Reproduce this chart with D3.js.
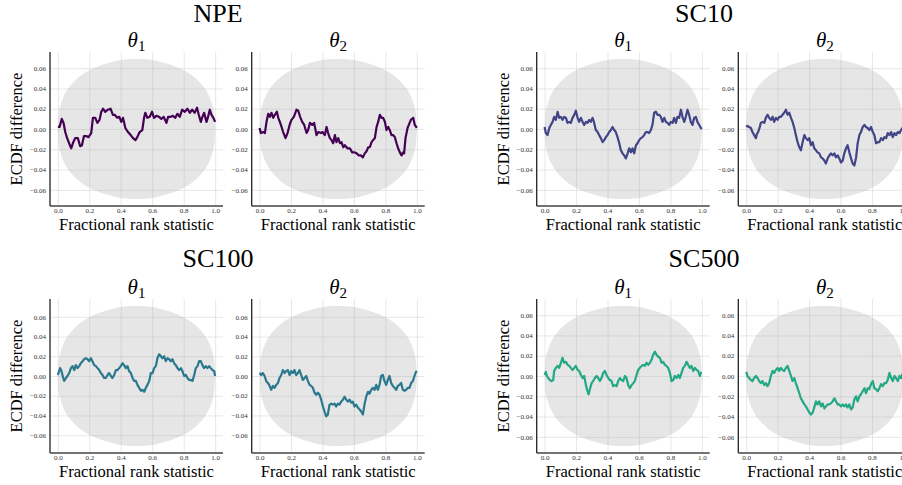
<!DOCTYPE html>
<html>
<head>
<meta charset="utf-8">
<script src="https://cdn.jsdelivr.net/npm/d3@7"></script>
<style>
  body { margin: 0; background: #fff; }
  text { font-family: "Liberation Serif", "Times New Roman", serif; }
</style>
</head>
<body>
<svg id="chart" width="902" height="485"></svg>
<script>
// ---- data ----
const groups = ["NPE", "SC10", "SC100", "SC500"];
const params = ["1", "2"];   // θ subscripts
const lineColors = ["#440154", "#414487", "#2a788e", "#22a884"];
const bandMax = [0.069, 0.069, 0.071, 0.069];

const bandX = [0, 0.005, 0.01, 0.02, 0.04, 0.06, 0.08, 0.1, 0.15, 0.2, 0.25, 0.3, 0.35, 0.4, 0.45, 0.5,
               0.55, 0.6, 0.65, 0.7, 0.75, 0.8, 0.85, 0.9, 0.92, 0.94, 0.96, 0.98, 0.99, 0.995, 1];
const bandShape = [0, 0.2, 0.27, 0.36, 0.48, 0.56, 0.62, 0.67, 0.77, 0.84, 0.89, 0.93, 0.96, 0.985, 0.997, 1,
                   0.997, 0.985, 0.96, 0.93, 0.89, 0.84, 0.77, 0.67, 0.62, 0.56, 0.48, 0.36, 0.27, 0.2, 0];

const xTicks = [0, 0.2, 0.4, 0.6, 0.8, 1.0];
const yTicks = [-0.06, -0.04, -0.02, 0, 0.02, 0.04, 0.06];

const npeTheta1 = [[0,0.002],[0.011,0.002],[0.025,0.010],[0.036,0.006],[0.047,-0.003],[0.059,-0.009],[0.074,-0.015],
  [0.085,-0.019],[0.098,-0.013],[0.110,-0.009],[0.127,-0.009],[0.142,-0.017],[0.153,-0.016],[0.166,-0.007],[0.180,-0.007],
  [0.195,-0.008],[0.212,-0.004],[0.223,0.011],[0.238,0.011],[0.251,0.006],[0.265,0.009],[0.276,0.017],[0.287,0.020],
  [0.301,0.017],[0.318,0.019],[0.335,0.020],[0.350,0.014],[0.361,0.014],[0.378,0.011],[0.391,0.012],[0.403,0.007],
  [0.414,0.011],[0.429,0.001],[0.446,-0.003],[0.463,-0.006],[0.478,-0.009],[0.493,-0.011],[0.505,-0.008],[0.520,-0.003],
  [0.537,-0.001],[0.548,0.011],[0.556,0.016],[0.569,0.011],[0.584,0.012],[0.599,0.017],[0.611,0.011],[0.626,0.013],
  [0.643,0.012],[0.658,0.010],[0.673,0.012],[0.690,0.006],[0.701,0.012],[0.718,0.012],[0.732,0.013],[0.747,0.011],
  [0.760,0.015],[0.775,0.012],[0.790,0.019],[0.807,0.017],[0.824,0.020],[0.839,0.016],[0.854,0.019],[0.870,0.016],
  [0.885,0.021],[0.896,0.014],[0.909,0.007],[0.919,0.012],[0.930,0.016],[0.945,0.007],[0.955,0.012],[0.966,0.019],
  [0.977,0.014],[0.989,0.011],[1,0.007]];

const npeTheta2 = [[0,0.001],[0.008,-0.004],[0.023,-0.003],[0.034,-0.004],[0.044,0.007],[0.055,0.015],[0.066,0.012],
  [0.076,0.016],[0.087,0.011],[0.097,0.014],[0.110,0.017],[0.119,0.011],[0.129,0.007],[0.140,0.002],[0.150,-0.003],
  [0.165,-0.009],[0.178,-0.004],[0.191,0.004],[0.203,0.009],[0.218,0.012],[0.235,0.019],[0.246,0.018],[0.258,0.012],
  [0.271,0.007],[0.284,0.004],[0.299,-0.004],[0.309,-0.001],[0.320,0.006],[0.335,0.004],[0.347,0.006],[0.362,-0.006],
  [0.373,-0.003],[0.390,-0.004],[0.400,-0.003],[0.415,-0.006],[0.426,0.002],[0.436,-0.004],[0.447,-0.009],[0.458,-0.011],
  [0.468,-0.014],[0.479,-0.006],[0.489,-0.013],[0.500,-0.009],[0.511,-0.014],[0.521,-0.013],[0.532,-0.018],[0.542,-0.016],
  [0.559,-0.019],[0.574,-0.019],[0.589,-0.023],[0.602,-0.023],[0.617,-0.024],[0.631,-0.026],[0.644,-0.026],[0.657,-0.028],
  [0.669,-0.024],[0.680,-0.022],[0.691,-0.018],[0.701,-0.018],[0.712,-0.013],[0.722,-0.011],[0.733,-0.009],[0.744,0.002],
  [0.754,0.007],[0.765,0.014],[0.775,0.011],[0.786,0.011],[0.797,0.007],[0.807,-0.001],[0.818,0.002],[0.828,-0.001],
  [0.839,-0.006],[0.849,-0.006],[0.860,-0.008],[0.871,-0.014],[0.881,-0.019],[0.892,-0.023],[0.903,-0.026],[0.913,-0.023],
  [0.919,-0.024],[0.928,-0.009],[0.941,0.001],[0.949,0.004],[0.962,0.009],[0.977,0.011],[0.987,0.004],[1,0.001]];

const sc10Theta1 = [[0,0.002],[0.008,-0.004],[0.019,-0.006],[0.030,0.001],[0.040,0.004],[0.051,0.007],[0.061,0.012],
  [0.072,0.009],[0.083,0.017],[0.093,0.011],[0.104,0.012],[0.114,0.009],[0.125,0.012],[0.136,0.011],[0.146,0.006],
  [0.157,0.007],[0.167,0.006],[0.178,0.011],[0.189,0.014],[0.199,0.018],[0.210,0.011],[0.220,0.007],[0.231,0.011],
  [0.242,0.007],[0.252,0.004],[0.263,0.007],[0.273,0.006],[0.284,0.009],[0.294,0.007],[0.305,0.011],[0.314,0.007],
  [0.326,-0.001],[0.337,-0.003],[0.347,-0.006],[0.358,-0.009],[0.369,-0.013],[0.379,-0.011],[0.390,-0.008],[0.400,-0.006],
  [0.411,-0.003],[0.422,-0.001],[0.432,0.002],[0.443,-0.001],[0.453,-0.003],[0.464,-0.008],[0.475,-0.014],[0.485,-0.021],
  [0.496,-0.024],[0.506,-0.026],[0.517,-0.029],[0.528,-0.024],[0.538,-0.019],[0.549,-0.023],[0.559,-0.019],[0.570,-0.024],
  [0.581,-0.016],[0.591,-0.014],[0.602,-0.011],[0.612,-0.009],[0.623,-0.008],[0.633,-0.006],[0.644,-0.003],[0.653,-0.003],
  [0.665,-0.004],[0.676,-0.001],[0.686,0.004],[0.697,0.016],[0.708,0.017],[0.718,0.014],[0.729,0.014],[0.739,0.012],
  [0.750,0.007],[0.761,0.011],[0.771,0.007],[0.782,0.006],[0.792,0.004],[0.803,0.007],[0.814,0.006],[0.824,0.011],
  [0.835,0.006],[0.845,0.012],[0.856,0.011],[0.867,0.019],[0.877,0.012],[0.888,0.007],[0.898,0.012],[0.909,0.019],
  [0.919,0.014],[0.930,0.007],[0.941,0.004],[0.951,0.011],[0.962,0.012],[0.972,0.007],[0.983,0.004],[0.994,0.001],[1,0]];

const sc10Theta2 = [[0,0.002],[0.008,0.003],[0.019,0.002],[0.030,0.001],[0.040,-0.003],[0.051,-0.006],[0.062,-0.009],
  [0.068,-0.005],[0.076,-0.003],[0.085,0.001],[0.093,0.006],[0.104,0.007],[0.115,0.006],[0.125,0.011],[0.136,0.014],
  [0.146,0.011],[0.157,0.009],[0.168,0.012],[0.178,0.007],[0.189,0.011],[0.200,0.009],[0.210,0.012],[0.221,0.012],
  [0.231,0.014],[0.242,0.016],[0.253,0.019],[0.263,0.014],[0.274,0.016],[0.285,0.011],[0.295,0.007],[0.306,0.001],
  [0.316,-0.006],[0.327,-0.013],[0.338,-0.018],[0.348,-0.021],[0.359,-0.013],[0.370,-0.006],[0.380,-0.009],[0.391,-0.011],
  [0.401,-0.009],[0.412,-0.016],[0.423,-0.013],[0.433,-0.019],[0.444,-0.021],[0.454,-0.023],[0.465,-0.024],[0.476,-0.028],
  [0.486,-0.029],[0.497,-0.031],[0.507,-0.034],[0.518,-0.029],[0.529,-0.026],[0.539,-0.024],[0.550,-0.026],[0.561,-0.024],
  [0.571,-0.028],[0.582,-0.026],[0.592,-0.029],[0.603,-0.033],[0.614,-0.031],[0.624,-0.024],[0.635,-0.019],[0.645,-0.016],
  [0.656,-0.023],[0.667,-0.029],[0.677,-0.034],[0.688,-0.036],[0.699,-0.028],[0.709,-0.014],[0.720,-0.006],[0.730,-0.003],
  [0.741,0.002],[0.752,0.004],[0.762,0.002],[0.773,0.001],[0.783,-0.001],[0.794,0.002],[0.805,-0.003],[0.815,-0.006],
  [0.826,-0.014],[0.837,-0.013],[0.847,-0.013],[0.858,-0.009],[0.869,-0.011],[0.879,-0.008],[0.890,-0.009],[0.900,-0.004],
  [0.911,-0.006],[0.922,-0.003],[0.932,-0.008],[0.943,-0.004],[0.953,-0.006],[0.964,-0.003],[0.975,-0.004],[0.985,-0.001],
  [0.994,0.001],[1,0.001]];

const sc100Theta1 = [[0,0.001],[0.008,0.005],[0.015,0.008],[0.023,0.005],[0.034,-0.002],[0.040,-0.005],[0.051,-0.002],
  [0.061,0.000],[0.072,0.003],[0.083,0.008],[0.093,0.010],[0.104,0.006],[0.114,0.011],[0.125,0.008],[0.136,0.010],
  [0.146,0.013],[0.157,0.015],[0.167,0.017],[0.178,0.018],[0.189,0.017],[0.199,0.015],[0.210,0.018],[0.220,0.015],
  [0.231,0.011],[0.242,0.010],[0.252,0.008],[0.263,0.006],[0.273,0.003],[0.284,0.001],[0.294,-0.002],[0.305,-0.002],
  [0.316,0.001],[0.326,0.003],[0.337,0.000],[0.347,-0.002],[0.358,0.001],[0.369,0.006],[0.379,0.006],[0.390,0.008],
  [0.400,0.010],[0.411,0.013],[0.422,0.011],[0.432,0.008],[0.443,0.010],[0.453,0.005],[0.464,0.003],[0.475,-0.002],
  [0.485,-0.005],[0.496,-0.005],[0.506,-0.009],[0.517,-0.012],[0.528,-0.015],[0.538,-0.014],[0.549,-0.016],[0.559,-0.012],
  [0.570,-0.009],[0.581,-0.005],[0.591,0.003],[0.602,0.003],[0.612,0.008],[0.623,0.010],[0.633,0.018],[0.644,0.022],
  [0.655,0.020],[0.665,0.018],[0.676,0.020],[0.686,0.015],[0.697,0.018],[0.708,0.017],[0.718,0.015],[0.729,0.017],
  [0.739,0.013],[0.750,0.011],[0.761,0.008],[0.771,0.006],[0.782,0.008],[0.792,0.005],[0.803,0.000],[0.814,0.001],
  [0.824,-0.002],[0.835,-0.004],[0.845,-0.004],[0.856,-0.005],[0.867,0.001],[0.877,0.008],[0.888,0.010],[0.898,0.015],
  [0.909,0.015],[0.919,0.011],[0.930,0.008],[0.941,0.010],[0.951,0.008],[0.962,0.010],[0.972,0.008],[0.983,0.006],
  [0.994,0.005],[1,0]];

const sc100Theta2 = [[0,0.003],[0.011,0.001],[0.021,0.003],[0.032,0.000],[0.042,-0.005],[0.053,-0.007],[0.064,-0.010],
  [0.074,-0.014],[0.085,-0.010],[0.095,-0.012],[0.106,-0.009],[0.117,-0.007],[0.127,-0.002],[0.138,0.001],[0.148,0.006],
  [0.159,0.003],[0.169,0.005],[0.180,0.006],[0.191,0.001],[0.201,0.005],[0.212,0.003],[0.222,0.006],[0.233,0.001],
  [0.244,0.003],[0.254,0.006],[0.265,0.001],[0.275,-0.004],[0.286,-0.002],[0.297,0.000],[0.307,-0.005],[0.318,-0.009],
  [0.328,-0.010],[0.339,-0.012],[0.350,-0.017],[0.360,-0.019],[0.371,-0.017],[0.381,-0.019],[0.392,-0.024],[0.403,-0.031],
  [0.413,-0.036],[0.424,-0.041],[0.434,-0.039],[0.445,-0.029],[0.456,-0.028],[0.466,-0.029],[0.477,-0.028],[0.487,-0.031],
  [0.498,-0.028],[0.508,-0.029],[0.519,-0.026],[0.530,-0.024],[0.540,-0.021],[0.551,-0.024],[0.561,-0.026],[0.572,-0.024],
  [0.583,-0.027],[0.593,-0.026],[0.604,-0.031],[0.614,-0.029],[0.625,-0.032],[0.636,-0.034],[0.646,-0.036],[0.657,-0.039],
  [0.667,-0.029],[0.678,-0.021],[0.689,-0.016],[0.699,-0.018],[0.710,-0.014],[0.720,-0.012],[0.731,-0.014],[0.742,-0.009],
  [0.752,-0.014],[0.763,-0.009],[0.773,0.000],[0.784,0.001],[0.794,-0.005],[0.805,-0.009],[0.816,-0.004],[0.826,0.000],
  [0.837,-0.007],[0.847,-0.010],[0.858,-0.012],[0.869,-0.014],[0.879,-0.010],[0.890,-0.009],[0.900,-0.007],[0.911,-0.014],
  [0.922,-0.015],[0.932,-0.014],[0.943,-0.012],[0.953,-0.012],[0.964,-0.007],[0.975,-0.005],[0.985,0.000],[0.994,0.004],
  [1,0.005]];

const sc500Theta1 = [[0,0.001],[0.008,0.004],[0.015,0.000],[0.023,-0.002],[0.034,-0.004],[0.044,-0.005],[0.055,-0.004],
  [0.061,0.005],[0.072,0.008],[0.083,0.010],[0.093,0.008],[0.104,0.013],[0.114,0.018],[0.125,0.013],[0.136,0.014],
  [0.146,0.011],[0.157,0.010],[0.167,0.008],[0.178,0.006],[0.189,0.008],[0.199,0.010],[0.210,0.006],[0.220,0.005],
  [0.231,0.001],[0.242,-0.002],[0.252,0.000],[0.263,-0.009],[0.273,-0.015],[0.280,-0.018],[0.290,-0.012],[0.299,-0.007],
  [0.309,-0.005],[0.320,-0.002],[0.331,0.000],[0.341,-0.002],[0.352,-0.005],[0.362,-0.002],[0.373,0.003],[0.383,0.005],
  [0.394,0.001],[0.405,-0.002],[0.415,-0.004],[0.426,-0.005],[0.436,-0.010],[0.447,-0.009],[0.458,-0.010],[0.468,-0.005],
  [0.479,-0.002],[0.489,-0.004],[0.500,-0.005],[0.511,0.000],[0.521,-0.002],[0.532,-0.009],[0.542,-0.012],[0.553,-0.009],
  [0.564,-0.007],[0.574,-0.005],[0.585,0.001],[0.595,0.006],[0.606,0.008],[0.617,0.010],[0.627,0.011],[0.638,0.010],
  [0.648,0.013],[0.659,0.011],[0.670,0.013],[0.680,0.016],[0.691,0.021],[0.701,0.024],[0.712,0.021],[0.722,0.019],
  [0.733,0.018],[0.744,0.013],[0.754,0.014],[0.765,0.011],[0.775,0.010],[0.786,0.008],[0.797,0.003],[0.807,-0.005],
  [0.818,-0.004],[0.828,0.000],[0.839,-0.002],[0.850,0.001],[0.860,-0.002],[0.871,0.003],[0.881,0.008],[0.892,0.010],
  [0.903,0.014],[0.913,0.011],[0.924,0.008],[0.934,0.010],[0.945,0.005],[0.956,0.008],[0.966,0.006],[0.977,0.005],
  [0.987,0.000],[0.994,0.003],[1,0.003]];

const sc500Theta2 = [[0,0.004],[0.008,0.000],[0.019,-0.002],[0.030,-0.004],[0.040,-0.005],[0.051,-0.002],[0.062,0.000],
  [0.072,-0.002],[0.083,-0.005],[0.093,-0.007],[0.104,-0.005],[0.115,-0.009],[0.125,-0.007],[0.136,-0.010],[0.146,-0.007],
  [0.157,0.000],[0.168,0.005],[0.178,0.003],[0.189,0.006],[0.200,0.008],[0.210,0.005],[0.221,0.008],[0.231,0.006],
  [0.242,0.005],[0.253,0.008],[0.263,0.010],[0.274,0.005],[0.285,0.000],[0.295,-0.005],[0.306,-0.002],[0.316,-0.007],
  [0.327,-0.012],[0.338,-0.017],[0.348,-0.022],[0.359,-0.025],[0.370,-0.028],[0.380,-0.030],[0.391,-0.033],[0.401,-0.036],
  [0.412,-0.038],[0.423,-0.036],[0.433,-0.031],[0.444,-0.025],[0.454,-0.028],[0.465,-0.025],[0.476,-0.030],[0.486,-0.027],
  [0.497,-0.032],[0.507,-0.030],[0.518,-0.028],[0.529,-0.028],[0.539,-0.027],[0.550,-0.025],[0.561,-0.022],[0.571,-0.025],
  [0.582,-0.028],[0.592,-0.028],[0.603,-0.030],[0.614,-0.028],[0.624,-0.030],[0.635,-0.028],[0.645,-0.031],[0.656,-0.028],
  [0.667,-0.033],[0.677,-0.031],[0.688,-0.023],[0.699,-0.020],[0.709,-0.025],[0.720,-0.020],[0.730,-0.018],[0.741,-0.015],
  [0.752,-0.012],[0.762,-0.017],[0.773,-0.012],[0.783,-0.013],[0.794,-0.008],[0.805,-0.005],[0.815,-0.012],[0.826,-0.013],
  [0.837,-0.015],[0.847,-0.012],[0.858,-0.008],[0.868,-0.010],[0.879,-0.007],[0.890,-0.007],[0.900,-0.004],[0.911,0.003],
  [0.922,-0.002],[0.932,-0.005],[0.943,0.000],[0.953,-0.002],[0.964,-0.005],[0.975,0.000],[0.985,-0.002],[0.994,0.002],
  [1,0.003]];

const seriesByGroup = [
  [npeTheta1, npeTheta2],
  [sc10Theta1, sc10Theta2],
  [sc100Theta1, sc100Theta2],
  [sc500Theta1, sc500Theta2]
];

// ---- layout ----
let svg = d3.select("#chart");
svg.append("rect").attr("width", 902).attr("height", 485).attr("fill", "#fff");

const panelW = 173;
const panelH = 154;
const colLefts = [[50, 251.7], [536.7, 738.3]];
const rowTops = [52, 299];
const titleX = [218, 704];
const titleY = [21.5, 267];

let formatY = d3.format(".2f");
let formatX = d3.format(".1f");

groups.forEach((gName, gi) => {
    let col = gi % 2;
    let row = Math.floor(gi / 2);
    let top = rowTops[row];

    svg.append("text")
        .attr("x", titleX[col])
        .attr("y", titleY[row])
        .attr("text-anchor", "middle")
        .style("font-size", "26px")
        .style("fill", "#000")
        .text(gName);

    params.forEach((pName, pi) => {
        let left = colLefts[col][pi];
        let data = seriesByGroup[gi][pi];
        let lim = bandMax[gi] * 1.1;

        let xScale = d3.scaleLinear()
                        .domain([-0.05, 1.05])
                        .range([left, left + panelW]);
        let yScale = d3.scaleLinear()
                        .domain([-lim, lim])
                        .range([top + panelH, top]);

        let g = svg.append("g");
        let clipId = `clip_${gi}_${pi}`;
        g.append("clipPath")
            .attr("id", clipId)
            .append("rect")
            .attr("x", left).attr("y", top)
            .attr("width", panelW).attr("height", panelH);

        // confidence band
        let bandPts = bandX.map((x, i) => ({x: x, h: bandShape[i] * bandMax[gi]}));
        let area = d3.area()
                    .x(d => xScale(d.x))
                    .y0(d => yScale(-d.h))
                    .y1(d => yScale(d.h))
                    .curve(d3.curveMonotoneX);
        g.append("path")
            .attr("clip-path", `url(#${clipId})`)
            .attr("d", area(bandPts))
            .attr("fill", "#808080")
            .attr("fill-opacity", 0.2);

        // grid
        let gridX = d3.axisBottom(xScale).tickValues(xTicks).tickSize(-panelH).tickFormat("");
        g.append("g")
            .attr("transform", `translate(0, ${top + panelH})`)
            .call(gridX)
            .call(s => s.select(".domain").remove())
            .selectAll("line")
            .attr("stroke", "#b0b0b0")
            .attr("stroke-opacity", 0.35)
            .attr("stroke-width", 0.9);
        let gridY = d3.axisLeft(yScale).tickValues(yTicks).tickSize(-panelW).tickFormat("");
        g.append("g")
            .attr("transform", `translate(${left}, 0)`)
            .call(gridY)
            .call(s => s.select(".domain").remove())
            .selectAll("line")
            .attr("stroke", "#b0b0b0")
            .attr("stroke-opacity", 0.35)
            .attr("stroke-width", 0.9);

        // ECDF difference line
        let line = d3.line()
                    .x(d => xScale(d[0]))
                    .y(d => yScale(d[1]));
        g.append("path")
            .attr("clip-path", `url(#${clipId})`)
            .attr("d", line(data))
            .attr("fill", "none")
            .attr("stroke", lineColors[gi])
            .attr("stroke-width", 2.2)
            .attr("stroke-linejoin", "round");

        // tick labels
        let yAxis = d3.axisLeft(yScale).tickValues(yTicks).tickSize(0).tickPadding(4).tickFormat(formatY);
        g.append("g")
            .attr("transform", `translate(${left}, 0)`)
            .call(yAxis)
            .call(s => s.select(".domain").remove())
            .selectAll("text")
            .style("font-family", "'Liberation Serif', serif")
            .style("font-size", "7px")
            .attr("fill", "#333");
        let xAxis = d3.axisBottom(xScale).tickValues(xTicks).tickSize(0).tickPadding(2.5).tickFormat(formatX);
        g.append("g")
            .attr("transform", `translate(0, ${top + panelH})`)
            .call(xAxis)
            .call(s => s.select(".domain").remove())
            .selectAll("text")
            .style("font-family", "'Liberation Serif', serif")
            .style("font-size", "7px")
            .attr("fill", "#333");

        // spines (left and bottom only)
        g.append("line")
            .attr("x1", left).attr("x2", left)
            .attr("y1", top).attr("y2", top + panelH)
            .attr("stroke", "#222").attr("stroke-width", 1.3);
        g.append("line")
            .attr("x1", left).attr("x2", left + panelW)
            .attr("y1", top + panelH).attr("y2", top + panelH)
            .attr("stroke", "#444").attr("stroke-width", 1.3);

        // panel title θ with subscript
        let t = g.append("text")
                    .attr("x", left + panelW / 2)
                    .attr("y", top - 5)
                    .attr("text-anchor", "middle")
                    .style("fill", "#000");
        t.append("tspan")
            .style("font-size", "21px")
            .style("font-style", "italic")
            .text("θ");
        t.append("tspan")
            .attr("dy", 4)
            .style("font-size", "15px")
            .text(pName);

        // axis labels
        g.append("text")
            .attr("x", left + panelW / 2)
            .attr("y", top + panelH + 24)
            .attr("text-anchor", "middle")
            .style("font-size", "16.5px")
            .style("fill", "#000")
            .text("Fractional rank statistic");

        if (pi == 0) {
            g.append("text")
                .attr("transform", `translate(${left - 28}, ${top + panelH / 2}) rotate(-90)`)
                .attr("text-anchor", "middle")
                .style("font-size", "16.5px")
                .style("fill", "#000")
                .text("ECDF difference");
        }
    });
});
</script>
</body>
</html>
